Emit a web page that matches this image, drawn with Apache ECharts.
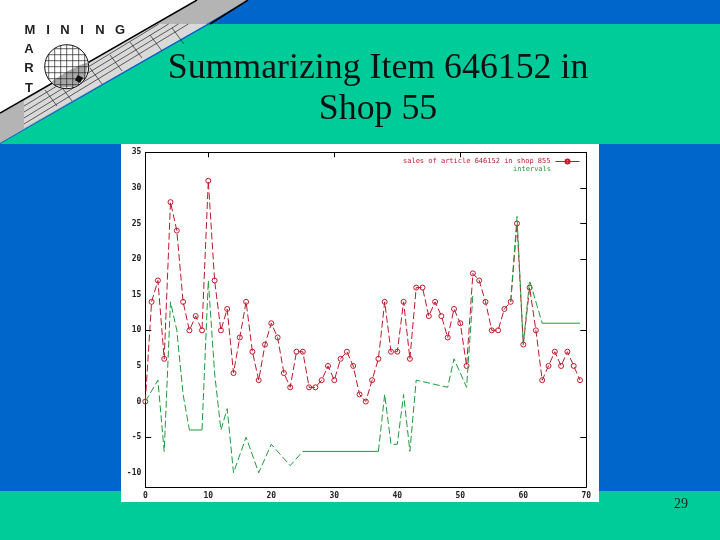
<!DOCTYPE html>
<html><head><meta charset="utf-8">
<style>html,body{margin:0;padding:0;background:#0066cc}#c{width:720px;height:540px}</style>
<script src="https://cdn.jsdelivr.net/npm/echarts@6/dist/echarts.min.js"></script>
</head><body><div id="c"></div>
<script>
const titleText = 'Summarizing Item 646152 in\nShop 55';
const pageNumber = '29';
const salesName = 'sales of article 646152 in shop 855';
const intervalsName = 'intervals';
const xTicks = [0,10,20,30,40,50,60,70];
const yTicks = [-10,-5,0,5,10,15,20,25,30,35];
const topTicks = [10,30,50];
const rightTicks = [-5,10,20,25,30];
const leftTicks = [-5,10];
const sales = [0,14,17,6,28,24,14,10,12,10,31,17,10,13,4,9,14,7,3,8,11,9,4,2,7,7,2,2,3,5,3,6,7,5,1,0,3,6,14,7,7,14,6,16,16,12,14,12,9,13,11,5,18,17,14,10,10,13,14,25,8,16,10,3,5,7,5,7,5,3];
// dashed green parts: null breaks the line
const greenX = [0,2,3,4,5,6,7, 9,10,11,12,13,14,16,18,20,23,25, 37,38,39,40,41,42,43,48,49,51,52, 58,59,60,61,63];
const greenY = [0,3,-7,14,10,1,-4, -4,17,4,-4,-1,-10,-5,-10,-6,-9,-7, -7,1,-6,-6,1,-7,3,2,6,2,15, 14,26,8,17,11];
// flat solid green parts
const flatX = [7,9,null,25,37,null,63,69];
const flatY = [-4,-4,null,-7,-7,null,11,11];

const red = '#c0182c', grn = '#1f9b3c';
function pairs(xs, ys){ return xs.map((x,i)=>[x,ys[i]]); }
function dashed(){
  const out=[];
  greenX.forEach((x,i)=>{
    out.push([x,greenY[i]]);
    if(x===7||x===25||x===52) out.push([x,null]);
  });
  return out;
}
const deco = [];
const z = -5;
const poly = (pts,fill,zz)=>deco.push({type:'polygon',z:zz||z,silent:true,shape:{points:pts},style:{fill:fill}});
const line = (a,b,c,d,col,w,zz)=>deco.push({type:'line',z:zz||z,silent:true,shape:{x1:a,y1:b,x2:c,y2:d},style:{stroke:col,lineWidth:w}});
poly([[0,0],[197,0],[0,113]],'#ffffff');
poly([[0,113],[197,0],[248,0],[0,143]],'#b4b4b4');
poly([[0,144],[210,24],[720,24],[720,144]],'#00cc99');
deco.push({type:'rect',z:z,silent:true,shape:{x:0,y:491,width:720,height:49},style:{fill:'#00cc99'}});
deco.push({type:'rect',z:z,silent:true,shape:{x:121,y:144,width:478,height:358},style:{fill:'#ffffff'}});
poly([[24,101],[155,24],[207,24],[24,128]],'#d9d9d9');
line(0,113,197,0,'#000',1.5); line(210,24,248,0,'#000',1.5);
// hatch lines on the slope
[106,112,118,124].forEach(y0=>line(24,y0,24+(y0-24)*1.73*0.95,24,'#222',0.7));
[[45,90],[60,85],[90,68],[110,55],[130,42],[150,35],[172,28]].forEach(p=>line(p[0],p[1],p[0]+12,p[1]+16,'#222',0.7));
// ball
const cx=66.7, cy=66.7, r=22;
deco.push({type:'circle',z:z,silent:true,shape:{cx:cx,cy:cy,r:r},style:{fill:'#fff',stroke:'#111',lineWidth:1}});
deco.push({type:'polygon',z:z,silent:true,shape:{points:[[51,82],[66,72],[80,65],[88.5,62],[85,78],[75,86.5],[62,87.5]]},style:{fill:'#a8a8a8'}});
for(let d=-18;d<=18;d+=6){
  const h=Math.sqrt(r*r-d*d);
  line(cx+d,cy-h,cx+d,cy+h,'#222',0.7);
  line(cx-h,cy+d,cx+h,cy+d,'#222',0.7);
}
deco.push({type:'rect',z:z,silent:true,rotation:-0.5,originX:79,originY:79,shape:{x:76,y:76,width:6,height:6},style:{fill:'#111'}});
const logoFont='bold 13px "Liberation Sans"';
[['M',30,30],['I',48,30],['N',65,30],['I',82,30],['N',100,30],['G',120,30],['A',29,49],['R',29,68],['T',29,88]].forEach(t=>{
  deco.push({type:'text',z:z,silent:true,style:{text:t[0],x:t[1],y:t[2],font:logoFont,fill:'#222',align:'center',verticalAlign:'middle'}});
});
deco.push({type:'text',z:z,silent:true,style:{text:pageNumber,x:681,y:504,font:'14px "Liberation Serif"',fill:'#222',align:'center',verticalAlign:'middle'}});

const tickFont = {fontFamily:'DejaVu Sans Mono',fontSize:8,fontWeight:'bold',color:'#222'};
const chart = echarts.init(document.getElementById('c'),null,{renderer:'canvas'});
chart.setOption({
  animation:false,
  backgroundColor:'#0066cc',
  title:{text:titleText,left:373,top:43,textAlign:'center',textStyle:{fontFamily:'Liberation Serif',fontSize:35.8,fontWeight:'normal',color:'#111',lineHeight:41}},
  graphic:deco,
  legend:[
    {show:true,data:[{name:salesName,lineStyle:{type:'solid',color:red,width:1}}],align:'right',right:140,top:158,itemWidth:24,itemHeight:5,itemGap:0,padding:0,
     textStyle:{fontFamily:'DejaVu Sans Mono',fontSize:7,color:red},inactiveColor:red},
    {show:true,data:[{name:intervalsName,icon:'none'}],align:'right',right:164,top:166,itemWidth:0,itemHeight:5,padding:0,
     textStyle:{fontFamily:'DejaVu Sans Mono',fontSize:7,color:grn}}
  ],
  grid:{left:145.3,right:133.7,top:152.3,bottom:53},
  xAxis:[
    {type:'value',min:0,max:70,interval:10,position:'bottom',splitLine:{show:false},
     axisLine:{onZero:false,lineStyle:{color:'#000',width:1}},axisTick:{show:false},
     axisLabel:{...tickFont,margin:5,showMinLabel:true,showMaxLabel:true,customValues:xTicks}},
    {type:'value',min:0,max:70,interval:10,position:'top',splitLine:{show:false},
     axisLine:{onZero:false,lineStyle:{color:'#000',width:1}},
     axisTick:{show:true,inside:true,length:5,lineStyle:{color:'#000'},customValues:topTicks},axisLabel:{show:false}}
  ],
  yAxis:[
    {type:'value',min:-12,max:35,position:'left',splitLine:{show:false},
     axisLine:{onZero:false,lineStyle:{color:'#000',width:1}},
     axisTick:{show:true,inside:true,length:6,lineStyle:{color:'#000'},customValues:leftTicks},
     axisLabel:{...tickFont,margin:4,customValues:yTicks}},
    {type:'value',min:-12,max:35,position:'right',splitLine:{show:false},
     axisLine:{onZero:false,lineStyle:{color:'#000',width:1}},
     axisTick:{show:true,inside:true,length:6,lineStyle:{color:'#000'},customValues:rightTicks},axisLabel:{show:false}}
  ],
  series:[
    {name:salesName,type:'line',data:sales.map((v,i)=>[i,v]),symbol:'circle',symbolSize:5,showAllSymbol:true,
     itemStyle:{color:'rgba(255,255,255,0)',borderColor:red,borderWidth:1},
     lineStyle:{color:red,width:1,type:[7,3]},z:2},
    {name:intervalsName,type:'line',data:dashed(),symbol:'none',connectNulls:false,
     itemStyle:{color:grn},lineStyle:{color:grn,width:1,type:[7,3]},z:3},
    {name:intervalsName,type:'line',data:pairs(flatX,flatY).map(p=>p[0]===null?[null,null]:p),symbol:'none',connectNulls:false,
     itemStyle:{color:grn},lineStyle:{color:grn,width:1},z:3}
  ]
});
</script></body></html>
